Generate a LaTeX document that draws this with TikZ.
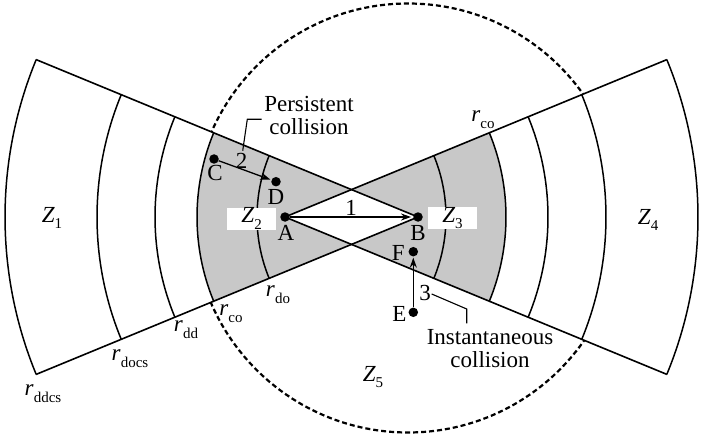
\documentclass[tikz,border=0pt]{standalone}
\usepackage{fontspec}
\setmainfont{Liberation Serif}
\usetikzlibrary{arrows.meta}
\newcommand\subsc[1]{\raisebox{-0.3em}{\fontsize{15}{15}\selectfont #1}}
\newcommand\zz[1]{\textit{Z}\subsc{#1}}
\newcommand\rr[1]{\textit{r}\subsc{#1}}
\definecolor{zonegray}{RGB}{200,200,200}
\begin{document}
\begin{tikzpicture}[x=1pt,y=1pt, font=\fontsize{23}{23}\selectfont,
  edge/.style={line width=1.6pt},
  ring/.style={line width=1.5pt},
  dot/.style={circle,fill=black,inner sep=0pt,minimum size=9.5pt},
  lbl/.style={inner sep=0pt},
  zbox/.style={fill=white,inner sep=0pt,minimum width=49pt,minimum height=22pt},
  arr/.style={line width=1.3pt,-{Stealth[length=10pt,width=7pt]}},
  leader/.style={line width=1.1pt},
  twoline/.style={align=center,inner sep=0pt}]
\useasboundingbox (0,0) rectangle (717,437);

\coordinate (A) at (285,220);
\coordinate (B) at (418,220);
\coordinate (Xu) at (351.5,247.4);
\coordinate (Xd) at (351.5,192.6);

% dashed circle
\draw[line width=2.2pt, dash pattern=on 5pt off 3pt] (408,219) circle[radius=214.5];

% fans filled white
\fill[white] (B) -- ++(157.6:413) arc[start angle=157.6,end angle=202.4,radius=413] -- cycle;
\fill[white] (A) -- ++(-22.4:413) arc[start angle=-22.4,end angle=22.4,radius=413] -- cycle;

% gray zones
\fill[zonegray] (B) ++(157.6:221) arc[start angle=157.6,end angle=202.4,radius=221] -- (Xd) -- (A) -- (Xu) -- cycle;
\fill[zonegray] (A) ++(-22.4:221) arc[start angle=-22.4,end angle=22.4,radius=221] -- (Xu) -- (B) -- (Xd) -- cycle;

% fan edges
\draw[edge] (B) -- ++(157.6:413);
\draw[edge] (B) -- ++(202.4:413);
\draw[edge] (A) -- ++(22.4:413);
\draw[edge] (A) -- ++(-22.4:413);

% arcs
\foreach \r in {413,321,263,221,161}{
  \draw[ring] (B) ++(157.6:\r) arc[start angle=157.6,end angle=202.4,radius=\r];
  \draw[ring] (A) ++(-22.4:\r) arc[start angle=-22.4,end angle=22.4,radius=\r];
}

% zone labels
\node[lbl] (z1) at (52,219) {\zz{1}};
\node[zbox] (z2) at (251.6,218.5) {\zz{2}};
\node[zbox] (z3) at (452.5,219) {\zz{3}};
\node[lbl] (z4) at (648,217) {\zz{4}};
\node[lbl] (z5) at (373,60) {\zz{5}};

% radius labels
\node[lbl] (rco1) at (483,317) {\rr{co}};
\node[lbl] (rco2) at (231,123.7) {\rr{co}};
\node[lbl] (rdo) at (278,142) {\rr{do}};
\node[lbl] (rdd) at (186,107) {\rr{dd}};
\node[lbl] (rdocs) at (130,78.7) {\rr{docs}};
\node[lbl] (rddcs) at (43,43.7) {\rr{ddcs}};

% points
\node[dot] (nA) at (A) {};
\node[dot] (nB) at (B) {};
\node[dot] (nC) at (214,278) {};
\node[dot] (nD) at (276,255.3) {};
\node[dot] (nE) at (413.3,124.7) {};
\node[dot] (nF) at (413.3,185.3) {};
\node[lbl] (tA) at (286,204) {A};
\node[lbl] (tB) at (418,204) {B};
\node[lbl] (tC) at (215,264) {C};
\node[lbl] (tD) at (276,240) {D};
\node[lbl] (tE) at (399.3,123) {E};
\node[lbl] (tF) at (398.3,184.3) {F};

% arrows
\draw[arr,shorten >=2pt] (nA) -- (nB);
\draw[arr,shorten >=1pt] (nC) -- (nD);
\draw[arr,shorten >=1pt] (nE) -- (nF);
\node[lbl] (n1) at (351,229) {1};
\node[lbl] (n2) at (241.7,276.3) {2};
\node[lbl] (n3) at (425,144.3) {3};

% callouts
\node[twoline] (pc) at (309,322) {Persistent\\collision};
\node[twoline] (ic) at (490,88.3) {Instantaneous\\collision};
\coordinate (p1) at (242.7,286.3);
\coordinate (p2) at (247.3,317.7);
\coordinate (p3) at (261.7,317.7);
\draw[leader] (p1) -- (p2) -- (p3);
\coordinate (q1) at (431.7,143);
\coordinate (q2) at (466.7,128);
\coordinate (q3) at (466.7,113.7);
\draw[leader] (q1) -- (q2) -- (q3);
\end{tikzpicture}
\end{document}
